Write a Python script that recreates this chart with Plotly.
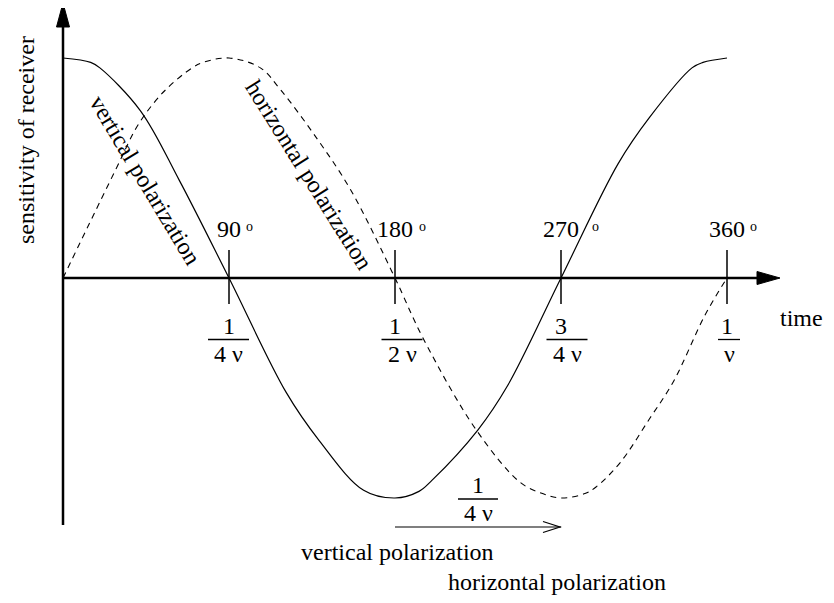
import plotly.graph_objects as go

# ---- data (phase in degrees, relative sensitivity) ----
deg_v = [0, 15, 20, 42, 63, 90, 121, 139, 163, 180, 193, 200, 225, 241, 270, 301, 318, 341, 347, 360]
vert = [1.0, 0.98, 0.955, 0.76, 0.445, 0.0, -0.52, -0.74, -0.965, -1.0, -0.97, -0.92, -0.69, -0.49, 0.0,
        0.52, 0.73, 0.955, 0.98, 1.0]

deg_h = [0, 29, 41, 55, 70, 76, 90, 107, 118, 138, 156, 180, 195, 224, 248, 260, 270, 283, 289, 302,
         318, 331, 348, 360]
horiz = [0.0, 0.5, 0.7, 0.85, 0.955, 0.98, 1.0, 0.955, 0.855, 0.63, 0.4, 0.0, -0.27, -0.69, -0.93,
         -0.98, -1.0, -0.98, -0.95, -0.84, -0.64, -0.47, -0.17, 0.0]

tick_deg = [90, 180, 270, 360]
deg_labels = ["90", "180", "270", "360"]
frac_num = ["1", "1", "3", "1"]
frac_den = ["4 ν", "2 ν", "4 ν", "ν"]

# page offset of the plot div (default body margin)
PAGE_OFF = 8
W, H = 834 - 2 * PAGE_OFF, 603 - 2 * PAGE_OFF
PX_PER_DEG = 664 / 360.0
PX_PER_UNIT = 220.0
OX, OY = 63, 278


def X(px):
    return (px - OX) / PX_PER_DEG


def Y(py):
    return (OY - py) / PX_PER_UNIT


FONT = "Liberation Serif, Times New Roman, serif"
BLACK = "black"

fig = go.Figure()
fig.add_trace(go.Scatter(x=deg_v, y=vert, mode="lines",
                         line=dict(color=BLACK, width=1.2, shape="spline", smoothing=1.0),
                         hoverinfo="skip", showlegend=False))
fig.add_trace(go.Scatter(x=deg_h, y=horiz, mode="lines",
                         line=dict(color=BLACK, width=1.1, dash="6px,5px", shape="spline", smoothing=1.0),
                         hoverinfo="skip", showlegend=False))

shapes = []
# axes
shapes.append(dict(type="line", xref="x", yref="y", x0=X(63), y0=0, x1=X(762), y1=0,
                   line=dict(color=BLACK, width=2.5)))
shapes.append(dict(type="path", xref="x", yref="y",
                   path=f"M {X(757)},{Y(271.5)} L {X(780)},{Y(278)} L {X(757)},{Y(284.5)} Z",
                   fillcolor=BLACK, line=dict(color=BLACK, width=1)))
shapes.append(dict(type="line", xref="x", yref="y", x0=0, y0=Y(525), x1=0, y1=Y(24),
                   line=dict(color=BLACK, width=2.5)))
shapes.append(dict(type="path", xref="x", yref="y",
                   path=f"M {X(56.5)},{Y(27)} L {X(63)},{Y(3)} L {X(69.5)},{Y(27)} Z",
                   fillcolor=BLACK, line=dict(color=BLACK, width=1)))

annotations = []
o_offsets = [20, 27, 34, 26]
line_off = [-0.5, 7, 6, 2]
line_half = [20.5, 20.5, 20.5, 11]
for d, lab, num, den, oo, lo, lh in zip(tick_deg, deg_labels, frac_num, frac_den, o_offsets, line_off, line_half):
    shapes.append(dict(type="line", xref="x", yref="y", x0=d, y0=Y(250), x1=d, y1=Y(304),
                       line=dict(color=BLACK, width=1.5)))
    cx = d * PX_PER_DEG + OX + lo
    shapes.append(dict(type="line", xref="x", yref="y", x0=X(cx - lh), y0=Y(339.5), x1=X(cx + lh), y1=Y(339.5),
                       line=dict(color=BLACK, width=1.3)))
    annotations.append(dict(x=d, y=Y(229), text=lab, showarrow=False, xanchor="center", yanchor="middle",
                            font=dict(family=FONT, size=24, color=BLACK)))
    annotations.append(dict(x=X(d * PX_PER_DEG + OX + oo), y=Y(226), text="o", showarrow=False,
                            xanchor="center", yanchor="middle",
                            font=dict(family=FONT, size=14, color=BLACK)))
    annotations.append(dict(x=d, y=Y(326), text=num, showarrow=False, xanchor="center", yanchor="middle",
                            font=dict(family=FONT, size=24, color=BLACK)))
    annotations.append(dict(x=X(cx), y=Y(354), text=den, showarrow=False, xanchor="center", yanchor="middle",
                            font=dict(family=FONT, size=24, color=BLACK)))

# bottom phase shift arrow and fraction
shapes.append(dict(type="line", xref="x", yref="y", x0=180, y0=Y(527), x1=270, y1=Y(527),
                   line=dict(color=BLACK, width=1.2)))
shapes.append(dict(type="path", xref="x", yref="y",
                   path=f"M {X(543)},{Y(521.5)} L {X(560)},{Y(527)} L {X(543)},{Y(532.5)}",
                   line=dict(color=BLACK, width=1.2)))
shapes.append(dict(type="line", xref="x", yref="y", x0=X(458), y0=Y(499), x1=X(498), y1=Y(499),
                   line=dict(color=BLACK, width=1.3)))
annotations.append(dict(x=X(478), y=Y(485), text="1", showarrow=False, xanchor="center", yanchor="middle",
                        font=dict(family=FONT, size=24, color=BLACK)))
annotations.append(dict(x=X(478), y=Y(513), text="4 ν", showarrow=False, xanchor="center", yanchor="middle",
                        font=dict(family=FONT, size=24, color=BLACK)))

annotations.append(dict(x=X(397), y=Y(552), text="vertical polarization", showarrow=False,
                        xanchor="center", yanchor="middle", font=dict(family=FONT, size=24, color=BLACK)))
annotations.append(dict(x=X(557), y=Y(582), text="horizontal polarization", showarrow=False,
                        xanchor="center", yanchor="middle", font=dict(family=FONT, size=24, color=BLACK)))
annotations.append(dict(x=X(825), y=Y(318), text="time", showarrow=False,
                        xanchor="right", yanchor="middle", font=dict(family=FONT, size=24, color=BLACK)))
annotations.append(dict(x=X(26), y=Y(140), text="sensitivity of receiver", showarrow=False, textangle=-90,
                        xanchor="center", yanchor="middle", font=dict(family=FONT, size=24, color=BLACK)))
annotations.append(dict(x=X(145), y=Y(180), text="vertical polarization", showarrow=False, textangle=59,
                        xanchor="center", yanchor="middle", font=dict(family=FONT, size=24, color=BLACK)))
annotations.append(dict(x=X(309), y=Y(175), text="horizontal polarization", showarrow=False, textangle=58,
                        xanchor="center", yanchor="middle", font=dict(family=FONT, size=24, color=BLACK)))

fig.update_layout(
    width=W, height=H,
    margin=dict(l=0, r=0, t=0, b=0),
    paper_bgcolor="white", plot_bgcolor="white",
    xaxis=dict(range=[X(PAGE_OFF), X(PAGE_OFF + W)], visible=False, fixedrange=True),
    yaxis=dict(range=[Y(PAGE_OFF + H), Y(PAGE_OFF)], visible=False, fixedrange=True),
    shapes=shapes, annotations=annotations, showlegend=False,
)

fig.write_html("out.html", config={"displayModeBar": False})
